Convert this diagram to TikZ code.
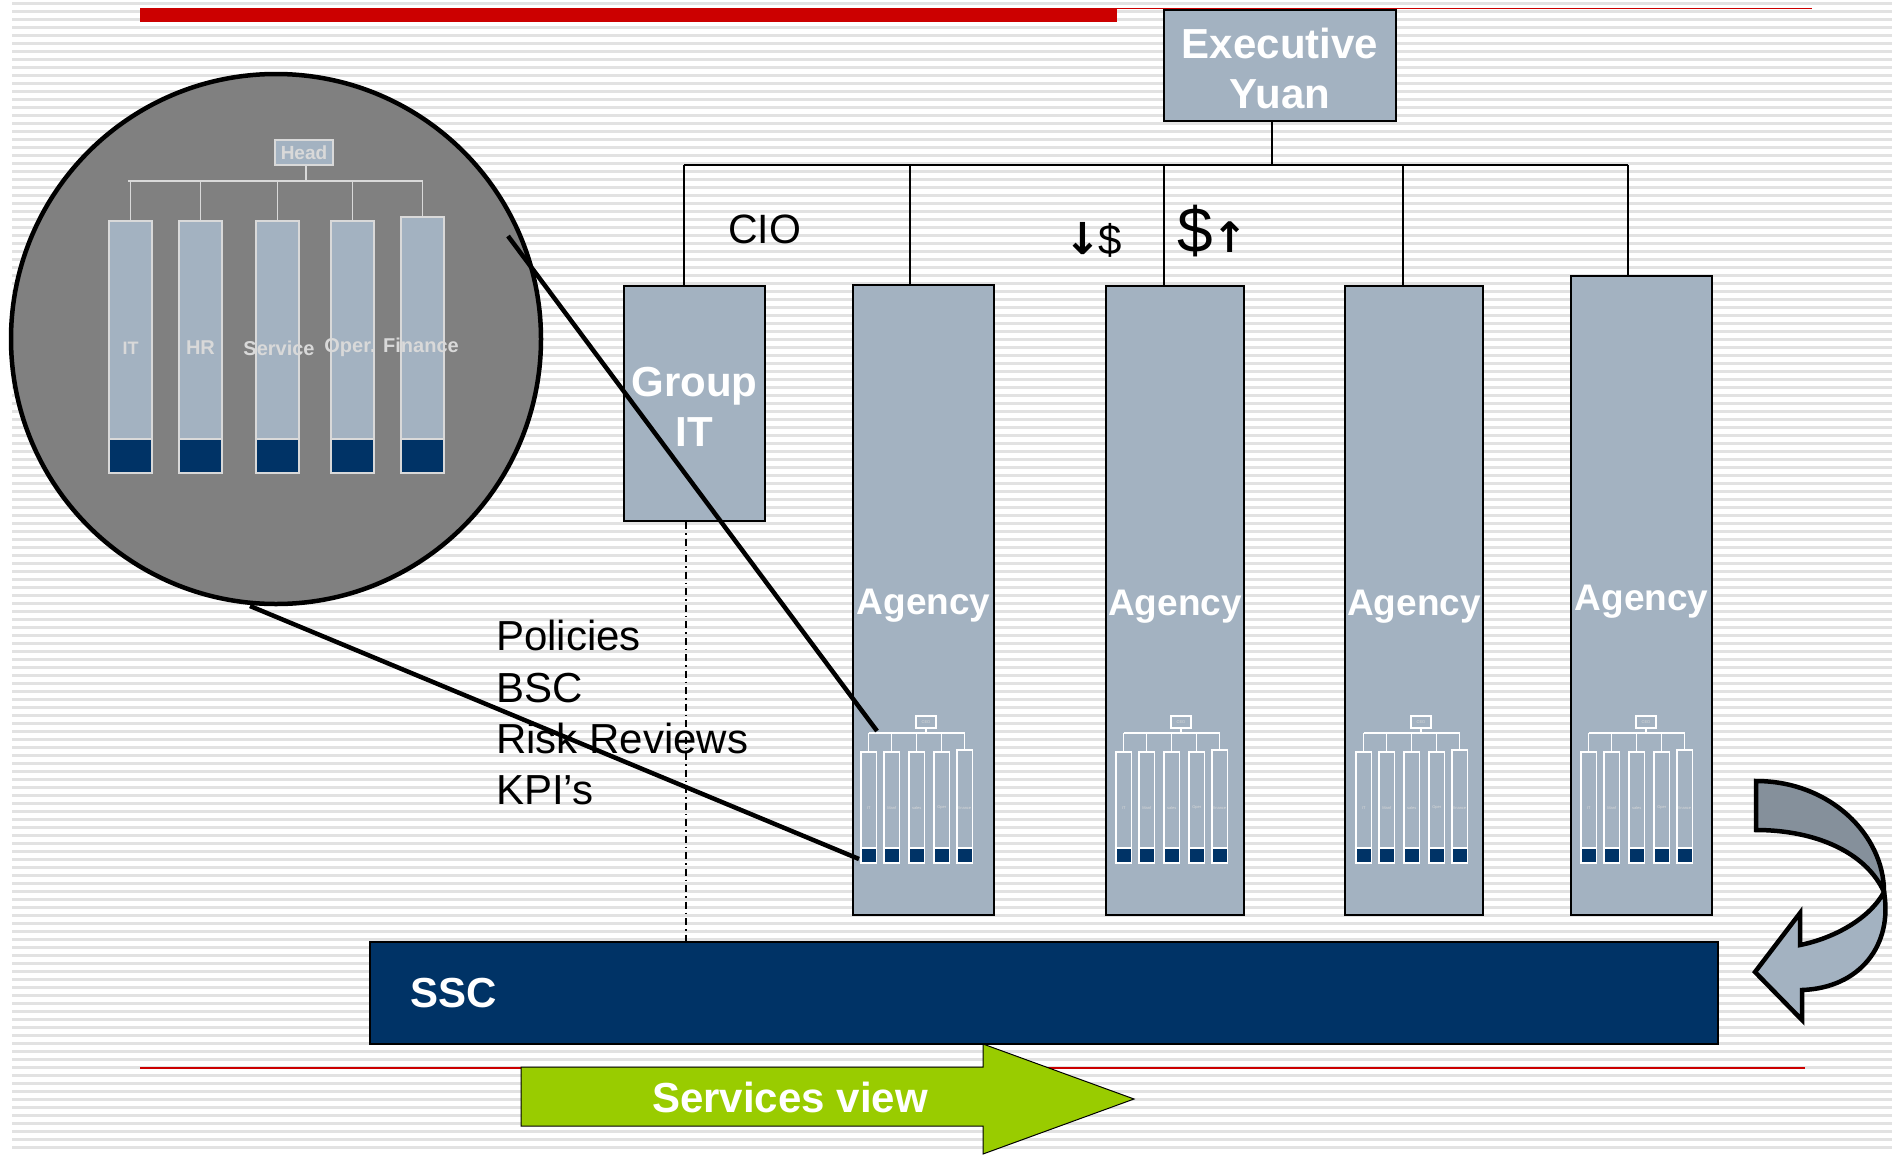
\documentclass[tikz,border=0pt]{standalone}
\usepackage{fontspec}
\setmainfont{Liberation Sans}
\newfontfamily\symfont{DejaVu Sans}
\usetikzlibrary{calc}
\definecolor{boxblue}{RGB}{163,178,193}
\definecolor{navy}{RGB}{0,51,102}
\definecolor{lime}{RGB}{153,204,0}
\definecolor{stripe}{RGB}{226,226,226}
\definecolor{redbar}{RGB}{204,0,0}
\definecolor{magfill}{RGB}{128,128,128}
\definecolor{lightline}{RGB}{217,217,217}
\definecolor{darkrib}{RGB}{133,144,155}
\tikzset{
 gbox/.style={draw=black, line width=2.2, fill=boxblue, inner sep=0, text=white, align=center, font=\bfseries\fontsize{42}{50}\selectfont},
 agfont/.style={font=\bfseries\fontsize{37}{44}\selectfont, text height=37pt, text depth=8pt},
 tree/.style={draw=black, line width=1.8},
 wl/.style={draw=white, line width=1.3},
 ll/.style={draw=lightline, line width=1.6},
 zoomline/.style={draw=black, line width=4.5},
 blacktxt/.style={text=black, inner sep=0, font=\fontsize{42}{50}\selectfont},
 wlabel/.style={text=white, inner sep=0, font=\bfseries\fontsize{42}{50}\selectfont},
 biglbl/.style={text=lightline, inner sep=0, font=\bfseries\fontsize{20}{20}\selectfont},
 minilbl/.style={text=lightline, inner sep=0, font=\fontsize{4}{4}\selectfont},
 ceobox/.style={draw=white, line width=1.3, minimum width=20, minimum height=12, inner sep=0, font=\fontsize{4}{4}\selectfont, text=lightline},
 dashdotline/.style={draw=black, line width=1.5, dash pattern=on 7pt off 4pt on 1.5pt off 4pt},
}
\newcommand\agchart[2]{%
\begin{scope}[shift={(#1,0)}]
\draw[wl] (7.5,733) -- (103.5,733);
\node[ceobox] (#2ceo) at (65,722) {CEO};
\draw[wl] (#2ceo.south) -- (65,733);
\foreach \o/\t/\l [count=\k] in {0/752/IT,23/752/Manf,48/752/sales,73/752/Oper,96/750/finance}{%
 \draw[wl] (\o+7.5,733) -- (\o+7.5,\t);
 \draw[wl, fill=boxblue] (\o,\t) rectangle (\o+15.5,863);
 \draw[wl, fill=navy] (\o,848) rectangle (\o+15.5,863);
 \node[minilbl] (#2lbl\k) at (\o+7.75,808) {\l};
}
\end{scope}}
\begin{document}
\begin{tikzpicture}[x=1pt,y=-1pt]
\useasboundingbox (0,0) rectangle (1892,1154);
\fill[white] (0,0) rectangle (1892,1154);
\foreach \i in {0,...,143} \fill[stripe] (12,\i*8+2) rectangle (1892,\i*8+4.7);
% red rules
\fill[redbar] (140,8) rectangle (1117,22);
\draw[redbar, line width=1.5] (1117,8.5) -- (1812,8.5);
\draw[redbar, line width=1.3] (140,1068) -- (1805,1068);
% boxes
\node[gbox, minimum width=232, minimum height=111] (exec) at (1280,65.5) {\rule{0pt}{37pt}Executive\\Yuan};
\node[gbox, minimum width=141, minimum height=235] (git) at (694.5,403.5) {\rule{0pt}{36pt}Group\\IT};
\node[gbox, agfont, minimum width=141, minimum height=630] (ag1) at (923.5,600) {Agency};
\node[gbox, agfont, minimum width=138, minimum height=629] (ag2) at (1175,600.5) {Agency};
\node[gbox, agfont, minimum width=138, minimum height=629] (ag3) at (1414,600.5) {Agency};
\node[gbox, agfont, minimum width=141, minimum height=639] (ag4) at (1641.5,595.5) {Agency};
% tree
\coordinate (busL) at (684,165);
\coordinate (busR) at (1628,165);
\draw[tree] (busL) -- (busR);
\draw[tree] ([xshift=-8]exec.south) -- ([xshift=-8]exec.south |- busL);
\draw[tree] ([xshift=-10.5]git.north) -- ([xshift=-10.5]git.north |- busL);
\draw[tree] ([xshift=-13.5]ag1.north) -- ([xshift=-13.5]ag1.north |- busL);
\draw[tree] ([xshift=-11]ag2.north) -- ([xshift=-11]ag2.north |- busL);
\draw[tree] ([xshift=-11]ag3.north) -- ([xshift=-11]ag3.north |- busL);
\draw[tree] ([xshift=-13.5]ag4.north) -- ([xshift=-13.5]ag4.north |- busL);
% mini org charts
\agchart{861}{aa}
\agchart{1116}{ab}
\agchart{1356}{ac}
\agchart{1581}{ad}
% magnifier circle
\node[circle, draw=black, line width=4.5, fill=magfill, minimum size=530, inner sep=0] (mag) at (276,339) {};
\node[draw=lightline, line width=1.5, fill=boxblue, minimum width=58, minimum height=25, inner sep=0, text=lightline, font=\bfseries\fontsize{19}{19}\selectfont] (head) at (304,152.5) {Head};
\draw[ll] ([xshift=2]head.south) -- ([xshift=2]head.south |- 0,181);
\draw[ll] (128,181) -- (423,181);
\foreach \l/\r/\t in {109/152/221,179/222/221,256/299/221,331/374/221,401/444/217}{
 \draw[ll] ({(\l+\r)/2},181) -- ({(\l+\r)/2},\t);
 \draw[ll, fill=boxblue] (\l,\t) rectangle (\r,473);
 \draw[ll, fill=navy] (\l,439) rectangle (\r,473);
}
\node[biglbl, font=\bfseries\fontsize{18}{18}\selectfont] (lit) at (130.5,348) {IT};
\node[biglbl] (lhr) at (200.5,348) {HR};
\node[biglbl] (lsv) at (279,348) {Service};
\node[biglbl] (lop) at (350,348) {Oper.};
\node[biglbl] (lfi) at (421,345) {Finance};
% texts
\node[blacktxt, anchor=base west, font=\fontsize{41}{50}\selectfont] (cio) at (728,243) {CIO};
\node[blacktxt, anchor=base west] (dnd) at (1064.5,254) {{\symfont\bfseries\fontsize{44}{44}\selectfont ↓}\kern-3.4pt\$};
\node[blacktxt, anchor=base west, font=\fontsize{64}{70}\selectfont] (upd) at (1177,252) {\$\kern0pt{\symfont\bfseries\fontsize{42}{42}\selectfont ↑}};
\node[blacktxt, anchor=base west] (t1) at (496,650) {Policies};
\node[blacktxt, anchor=base west] (t2) at (496,702) {BSC};
\node[blacktxt, anchor=base west] (t3) at (496,753) {Risk Reviews};
\node[blacktxt, anchor=base west] (t4) at (496,804) {KPI’s};
% SSC
\node[draw=black, line width=2, fill=navy, minimum width=1348, minimum height=102, inner sep=0] (ssc) at (1044,993) {};
\node[wlabel, anchor=west] (ssct) at (410,993) {SSC};
% dash-dot line
\draw[dashdotline] ([xshift=-8.5]git.south) -- ([xshift=-8.5]git.south |- ssc.north);
% zoom lines
\coordinate (z1a) at (508,236);
\coordinate (z1b) at (877,731);
\coordinate (z2a) at (250,606);
\coordinate (z2b) at (859,859);
\draw[zoomline] (z1a) -- (z1b);
\draw[zoomline] (z2a) -- (z2b);
% services arrow
\draw[line width=1, fill=lime] (521,1067) -- (983,1067) -- (983,1044) -- (1134,1099) -- (983,1154) -- (983,1126) -- (521,1126) -- cycle;
\node[wlabel] (svc) at (790,1097) {Services view};
% curved arrow
\draw[line width=4.5, fill=darkrib, line join=miter] (1756,781) -- (1756,830) .. controls (1815,830) and (1866,852) .. (1884,892) .. controls (1884,835) and (1830,781) .. (1756,781) -- cycle;
\draw[line width=4.5, fill=boxblue, line join=miter] (1884,892) .. controls (1893,945) and (1860,988) .. (1802,990) -- (1802,1020) -- (1755,972) -- (1800,913) -- (1800,945) .. controls (1835,938) and (1870,918) .. (1884,892) -- cycle;
\end{tikzpicture}
\end{document}
